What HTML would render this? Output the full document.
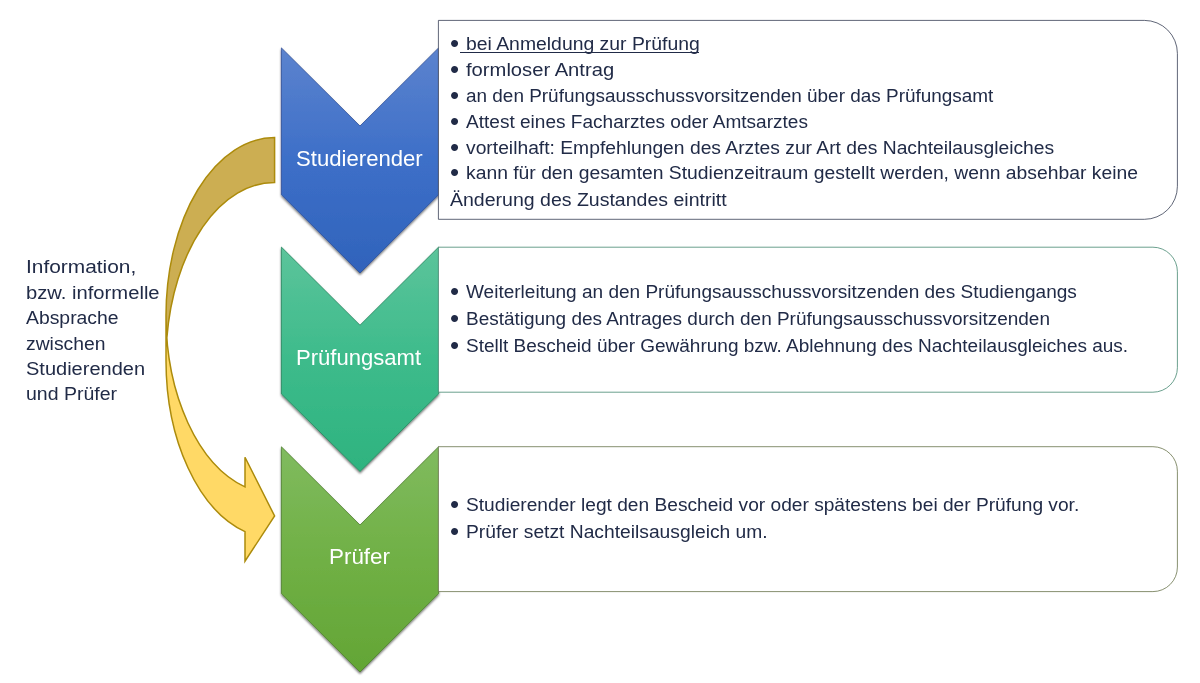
<!DOCTYPE html>
<html lang="de">
<head>
<meta charset="utf-8">
<title>Nachteilsausgleich – Ablauf</title>
<style>
html,body{margin:0;padding:0;background:#fff;}
body{width:1200px;height:683px;position:relative;overflow:hidden;font-family:"Liberation Sans",sans-serif;}
#art{position:absolute;left:0;top:0;width:1200px;height:683px;display:block;}
main,section,p,h2,ul,li{margin:0;padding:0;font-weight:normal;list-style:none;}
.t{position:absolute;white-space:nowrap;line-height:30px;height:30px;margin:0;padding:0;color:#212b47;transform-origin:0 50%;}
.lab{color:#fff;}
.b{position:absolute;left:450.3px;font-size:26px;line-height:30px;height:30px;color:#212b47;transform:scaleX(0.999);transform-origin:0 50%;}
.u{position:absolute;height:1.2px;background:#212b47;}
</style>
</head>
<body>
<svg id="art" width="1200" height="683" viewBox="0 0 1200 683" aria-hidden="true">
<defs>
<linearGradient id="g0" gradientUnits="userSpaceOnUse" x1="0" y1="47.9" x2="0" y2="272.8"><stop offset="0" stop-color="#5c83ce"/><stop offset="0.5" stop-color="#3d6fc8"/><stop offset="1" stop-color="#3063bb"/></linearGradient>
<linearGradient id="g1" gradientUnits="userSpaceOnUse" x1="0" y1="247.1" x2="0" y2="472.0"><stop offset="0" stop-color="#5cc49b"/><stop offset="0.5" stop-color="#3dbb8b"/><stop offset="1" stop-color="#2eb37f"/></linearGradient>
<linearGradient id="g2" gradientUnits="userSpaceOnUse" x1="0" y1="446.8" x2="0" y2="671.7"><stop offset="0" stop-color="#80bb5f"/><stop offset="0.5" stop-color="#70b045"/><stop offset="1" stop-color="#63a535"/></linearGradient>
<filter id="sh" x="-10%" y="-10%" width="120%" height="120%"><feDropShadow dx="0" dy="1.7" stdDeviation="1.2" flood-color="#000" flood-opacity="0.55"/></filter>
</defs>
<polygon points="281.4,47.9 360.0,126.0 438.6,47.9 438.6,194.7 360.0,273.0 281.4,194.7" fill="url(#g0)" stroke="#2f4f98" stroke-width="0.8" stroke-linejoin="miter" filter="url(#sh)"/>
<polygon points="281.4,247.1 360.0,325.2 438.6,247.1 438.6,393.9 360.0,471.5 281.4,393.9" fill="url(#g1)" stroke="#27875f" stroke-width="0.8" stroke-linejoin="miter" filter="url(#sh)"/>
<polygon points="281.4,446.8 360.0,525.0 438.6,446.8 438.6,593.6 360.0,672.0 281.4,593.6" fill="url(#g2)" stroke="#4f7f2e" stroke-width="0.8" stroke-linejoin="miter" filter="url(#sh)"/>
<path d="M438.4 20.4 H1144.4 A33 33 0 0 1 1177.4 53.4 V186.3 A33 33 0 0 1 1144.4 219.3 H438.4 Z" fill="#fff" stroke="#2b3349" stroke-width="0.75"/>
<path d="M438.4 247.2 H1152.9 A24.5 24.5 0 0 1 1177.4 271.7 V367.7 A24.5 24.5 0 0 1 1152.9 392.2 H438.4 Z" fill="#fff" stroke="#3a8068" stroke-width="0.75"/>
<path d="M438.4 446.7 H1152.9 A24.5 24.5 0 0 1 1177.4 471.2 V567.1 A24.5 24.5 0 0 1 1152.9 591.6 H438.4 Z" fill="#fff" stroke="#5f6b40" stroke-width="0.75"/>
<path d="M166.00 315.60 A108.60 178.00 0 0 0 245.00 486.86 L245.00 457.26 L274.60 516.00 L245.00 561.26 L245.00 531.66 A108.60 178.00 0 0 1 166.00 360.40 Z" fill="#ffd966"/>
<path d="M274.60 182.40 A108.60 178.00 0 0 0 166.86 338.00 A108.60 178.00 0 0 1 274.60 137.60 Z" fill="#ccae52"/>
<path d="M166.00 315.60 A108.60 178.00 0 0 0 245.00 486.86 L245.00 457.26 L274.60 516.00 L245.00 561.26 L245.00 531.66 A108.60 178.00 0 0 1 166.00 360.40 L166.00 315.60 A108.60 178.00 0 0 1 274.60 137.60 L274.60 182.40 A108.60 178.00 0 0 0 166.86 338.00" fill="none" stroke="#ac8b0c" stroke-width="1.5" stroke-linejoin="miter"/>
</svg>
<main>
<p class="note">
  <span class="t" style="left:25.90px;top:252px;font-size:19.1px;transform:scaleX(1.0939)">Information,</span>
  <span class="t" style="left:25.90px;top:278px;font-size:19.1px;transform:scaleX(1.0580)">bzw. informelle</span>
  <span class="t" style="left:25.90px;top:303px;font-size:19.1px;transform:scaleX(1.0142)">Absprache</span>
  <span class="t" style="left:25.90px;top:329px;font-size:19.1px;transform:scaleX(1.0118)">zwischen</span>
  <span class="t" style="left:25.90px;top:354px;font-size:19.1px;transform:scaleX(1.0477)">Studierenden</span>
  <span class="t" style="left:25.90px;top:379px;font-size:19.1px;transform:scaleX(1.0216)">und Prüfer</span>
</p>
<section class="step s1">
  <h2 class="t lab" style="left:296.29px;top:143px;font-size:22.9px;transform:scaleX(0.9669)">Studierender</h2>
  <ul>
    <li><span class="b" style="top:28px">•</span><span class="t ul1" style="left:466.10px;top:29px;font-size:18.9px;transform:scaleX(1.0258)">bei Anmeldung zur Prüfung</span></li>
    <li><span class="b" style="top:54px">•</span><span class="t" style="left:466.10px;top:55px;font-size:18.9px;transform:scaleX(1.0687)">formloser Antrag</span></li>
    <li><span class="b" style="top:80px">•</span><span class="t" style="left:466.10px;top:81px;font-size:18.9px;transform:scaleX(1.0024)">an den Prüfungsausschussvorsitzenden über das Prüfungsamt</span></li>
    <li><span class="b" style="top:106px">•</span><span class="t" style="left:466.10px;top:107px;font-size:18.9px;transform:scaleX(1.0083)">Attest eines Facharztes oder Amtsarztes</span></li>
    <li><span class="b" style="top:132px">•</span><span class="t" style="left:466.10px;top:133px;font-size:18.9px;transform:scaleX(1.0202)">vorteilhaft: Empfehlungen des Arztes zur Art des Nachteilausgleiches</span></li>
    <li><span class="b" style="top:157px">•</span><span class="t" style="left:466.10px;top:158px;font-size:18.9px;transform:scaleX(1.0221)">kann für den gesamten Studienzeitraum gestellt werden, wenn absehbar keine</span> <span class="t" style="left:449.95px;top:185px;font-size:18.9px;transform:scaleX(1.0329)">Änderung des Zustandes eintritt</span></li>
  </ul>
</section>
<section class="step s2">
  <h2 class="t lab" style="left:296.13px;top:342px;font-size:22.9px;transform:scaleX(0.9642)">Prüfungsamt</h2>
  <ul>
    <li><span class="b" style="top:276px">•</span><span class="t" style="left:466.10px;top:277px;font-size:18.9px;transform:scaleX(1.0069)">Weiterleitung an den Prüfungsausschussvorsitzenden des Studiengangs</span></li>
    <li><span class="b" style="top:303px">•</span><span class="t" style="left:466.10px;top:304px;font-size:18.9px;transform:scaleX(1.0037)">Bestätigung des Antrages durch den Prüfungsausschussvorsitzenden</span></li>
    <li><span class="b" style="top:330px">•</span><span class="t" style="left:466.10px;top:331px;font-size:18.9px;transform:scaleX(1.0056)">Stellt Bescheid über Gewährung bzw. Ablehnung des Nachteilausgleiches aus.</span></li>
  </ul>
</section>
<section class="step s3">
  <h2 class="t lab" style="left:329.11px;top:541px;font-size:22.9px;transform:scaleX(0.9788)">Prüfer</h2>
  <ul>
    <li><span class="b" style="top:489px">•</span><span class="t" style="left:466.10px;top:490px;font-size:18.9px;transform:scaleX(1.0138)">Studierender legt den Bescheid vor oder spätestens bei der Prüfung vor.</span></li>
    <li><span class="b" style="top:516px">•</span><span class="t" style="left:466.10px;top:517px;font-size:18.9px;transform:scaleX(1.0189)">Prüfer setzt Nachteilsausgleich um.</span></li>
  </ul>
</section>
<i class="u" style="left:460.4px;top:52.0px;width:238.3px"></i>
</main>
</body>
</html>
